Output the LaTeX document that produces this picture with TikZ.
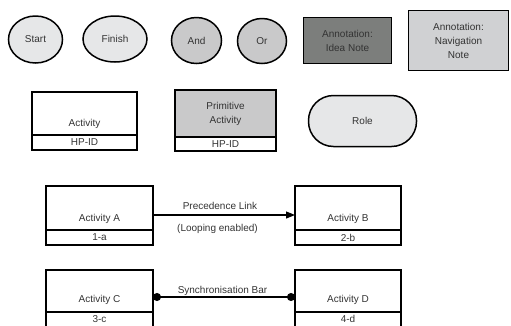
\documentclass[tikz,border=0pt]{standalone}
\usepackage{fontspec}
\setmainfont{Liberation Sans}
\usetikzlibrary{shapes.geometric,arrows.meta,calc}
\definecolor{lightfill}{HTML}{E6E7E8}
\definecolor{midfill}{HTML}{C9C9CA}
\definecolor{darkfill}{HTML}{7C7E7C}
\definecolor{navfill}{HTML}{D0D1D3}
\definecolor{txt}{HTML}{333333}
\begin{document}
\begin{tikzpicture}[x=1pt,y=-1pt, font=\fontsize{10}{14}\selectfont, text=txt,
  every node/.style={inner sep=0pt, outer sep=0pt},
  oval/.style={ellipse, draw=black, line width=1.5pt, fill=lightfill},
  gate/.style={oval, fill=midfill},
  note/.style={draw=black, line width=1.4pt, align=center},
  box/.style={draw=black, line width=1.2pt},
  lbl/.style={align=center},
  link/.style={draw=black, line width=1.1pt}]
\useasboundingbox (0,0) rectangle (511,325);
\clip (0,0) rectangle (511,325);
% top row
\node[oval, minimum width=54, minimum height=47] (start) at (35.5,39.5) {Start};
\node[oval, minimum width=64, minimum height=46] (finish) at (115,39) {Finish};
\node[gate, minimum width=50, minimum height=46] (and) at (196.5,40.5) {And};
\node[gate, minimum width=49, minimum height=45] (or) at (262,41) {Or};
\node[note, fill=darkfill, minimum width=88, minimum height=46] (idea) at (347.5,40.5) {Annotation:\\Idea Note};
\node[note, fill=navfill, minimum width=100, minimum height=60] (nav) at (458.5,40.5) {Annotation:\\Navigation\\Note};
% second row
\node[box, minimum width=105, minimum height=43] (act) at (84.5,113.5) {};
\node[box, minimum width=105, minimum height=15, anchor=north] (actid) at (act.south) {HP-ID};
\node[lbl, anchor=base] (acttxt) at ($(act.south)+(0,-9)$) {Activity};
\node[box, fill=midfill, minimum width=101, minimum height=47, align=center] (prim) at (225.5,113.5) {Primitive\\Activity};
\node[box, minimum width=101, minimum height=14, anchor=north] (primid) at (prim.south) {HP-ID};
\node[draw=black, line width=1.5pt, fill=lightfill, rounded corners=25pt, minimum width=108, minimum height=51] (role) at (362.5,121) {Role};
% precedence link
\node[box, minimum width=107, minimum height=44] (A) at (99.5,208) {};
\node[box, minimum width=107, minimum height=15, anchor=north] (Aid) at (A.south) {1-a};
\node[lbl, anchor=base] (Atxt) at ($(A.south)+(0,-9)$) {Activity A};
\node[box, minimum width=106, minimum height=44] (B) at (348,208) {};
\node[box, minimum width=106, minimum height=15, anchor=north] (Bid) at (B.south) {2-b};
\node[lbl, anchor=base] (Btxt) at ($(B.south)+(0,-9)$) {Activity B};
\draw[link, -{Triangle[length=9pt,width=7pt]}] ($(A.east)+(0,7)$) -- ($(B.west)+(0,7)$);
\node[lbl] (plink) at (220,206) {Precedence Link};
\node[lbl] (loop) at (217.5,229) {(Looping enabled)};
% synchronisation bar
\node[box, minimum width=107, minimum height=42] (C) at (99.5,291) {};
\node[box, minimum width=107, minimum height=20, anchor=north] (Cid) at (C.south) {};
\node[lbl] (Cidt) at ($(C.south)+(0,7)$) {3-c};
\node[lbl, anchor=base] (Ctxt) at ($(C.south)+(0,-10)$) {Activity C};
\node[box, minimum width=106, minimum height=42] (D) at (348,291) {};
\node[box, minimum width=106, minimum height=20, anchor=north] (Did) at (D.south) {};
\node[lbl] (Didt) at ($(D.south)+(0,7)$) {4-d};
\node[lbl, anchor=base] (Dtxt) at ($(D.south)+(0,-10)$) {Activity D};
\draw[link, {Circle[length=8pt]}-{Circle[length=8pt]}] ($(C.east)+(0,6)$) -- ($(D.west)+(0,6)$);
\node[lbl] (sync) at (222.5,291) {Synchronisation Bar};
\end{tikzpicture}
\end{document}
